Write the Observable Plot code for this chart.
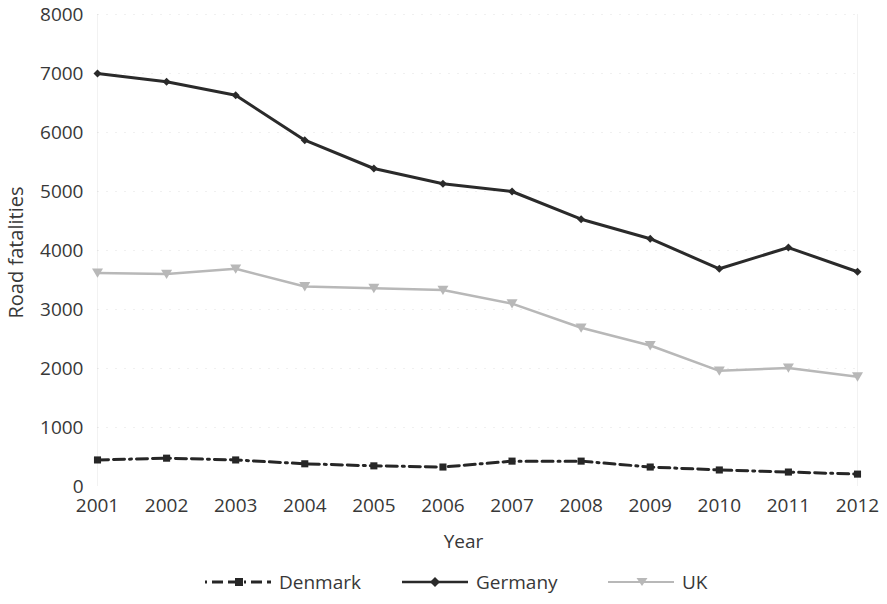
<!DOCTYPE html>
<html><head><meta charset="utf-8">
<script src="https://cdn.jsdelivr.net/npm/d3@7"></script>
<script src="https://cdn.jsdelivr.net/npm/@observablehq/plot@0.6"></script>
<style>
body{margin:0;background:#fff;font-family:"Open Sans",sans-serif;color:#383838;width:887px;height:604px;overflow:hidden}
#legend{position:relative;height:44px}
.item{position:absolute;top:0;height:44px;display:flex;align-items:center;font-size:19px;color:#383838}
.item svg{margin-right:8px}
</style>
</head><body>
<div id="chart"></div>
<div id="legend"></div>
<script>
const years = [2001,2002,2003,2004,2005,2006,2007,2008,2009,2010,2011,2012];
const denmark = [450,480,450,385,350,330,430,430,330,280,245,210];
const germany = [7000,6860,6630,5870,5390,5130,5000,4530,4200,3690,4050,3640];
const uk = [3620,3600,3690,3390,3360,3330,3100,2690,2390,1960,2010,1860];
const yTicks = [0,1000,2000,3000,4000,5000,6000,7000,8000];

const rows = (name, vals) => years.map((y, i) => ({year: y, value: vals[i], country: name}));
const dk = rows("Denmark", denmark), de = rows("Germany", germany), gb = rows("UK", uk);

const triDown = {draw(ctx, size){ const h = Math.sqrt(size/Math.PI); ctx.moveTo(-h,-h*0.8); ctx.lineTo(h,-h*0.8); ctx.lineTo(0,h*0.9); ctx.closePath(); }};

const chart = Plot.plot({
  width: 887, height: 560,
  marginLeft: 97, marginRight: 30, marginTop: 14, marginBottom: 74,
  style: {fontFamily: "'Open Sans', sans-serif", fontSize: "19px", color: "#383838", background: "#fff"},
  x: {domain: [2001, 2012], ticks: years, tickFormat: d => String(d), tickSize: 0, tickPadding: 12, label: null},
  y: {domain: [0, 8000], ticks: yTicks, tickFormat: d => String(d), tickSize: 0, tickPadding: 14, label: null},
  marks: [
    Plot.ruleY(yTicks.slice(1), {stroke: "#000", strokeOpacity: 0.06, strokeDasharray: "2,7"}),
    Plot.ruleX([2001, 2012], {stroke: "#000", strokeOpacity: 0.05}),
    Plot.line(dk, {x: "year", y: "value", stroke: "#262626", strokeWidth: 3, strokeDasharray: "11,5,11,5,2,5"}),
    Plot.dot(dk, {x: "year", y: "value", symbol: "square", r: 4, fill: "#262626", stroke: "none"}),
    Plot.line(gb, {x: "year", y: "value", stroke: "#b8b8b8", strokeWidth: 2.5}),
    Plot.dot(gb, {x: "year", y: "value", symbol: triDown, r: 5.5, fill: "#b8b8b8", stroke: "none"}),
    Plot.line(de, {x: "year", y: "value", stroke: "#2a2a2a", strokeWidth: 3}),
    Plot.dot(de, {x: "year", y: "value", symbol: "diamond2", r: 3.6, fill: "#2a2a2a", stroke: "none"}),
    Plot.text(["Road fatalities"], {frameAnchor: "left", textAnchor: "middle", lineAnchor: "middle", rotate: -90, dx: -81, dy: 2, fontSize: 20, fill: "#383838"}),
    Plot.text(["Year"], {frameAnchor: "bottom", textAnchor: "middle", lineAnchor: "middle", dx: -14, dy: 55, fontSize: 19, fill: "#383838"}),
    Plot.axisX({ticks: years, tickFormat: d => String(d), tickSize: 0, tickPadding: 12, label: null}),
    Plot.axisY({ticks: yTicks, tickFormat: d => String(d), tickSize: 0, tickPadding: 14, label: null})
  ]
});
document.getElementById("chart").appendChild(chart);

// legend
const legend = document.getElementById("legend");
const items = [
  {name: "Denmark", left: 203, svg: `<svg width="68" height="20"><line x1="2" y1="10" x2="68" y2="10" stroke="#262626" stroke-width="3" stroke-dasharray="2,5,11,5,11,5"/><rect x="32" y="6" width="8" height="8" fill="#262626"/></svg>`},
  {name: "Germany", left: 402, svg: `<svg width="66" height="20"><line x1="0" y1="10" x2="66" y2="10" stroke="#2a2a2a" stroke-width="2.5"/><path d="M33,5L38,10L33,15L28,10Z" fill="#2a2a2a"/></svg>`},
  {name: "UK", left: 608, svg: `<svg width="66" height="20"><line x1="0" y1="10" x2="66" y2="10" stroke="#b8b8b8" stroke-width="2"/><path d="M28.5,6L39.5,6L34,14Z" fill="#b8b8b8"/></svg>`}
];
for (const it of items) {
  const d = document.createElement("div");
  d.className = "item";
  d.style.left = it.left + "px";
  d.innerHTML = it.svg + `<span>${it.name}</span>`;
  legend.appendChild(d);
}
</script>
</body></html>
